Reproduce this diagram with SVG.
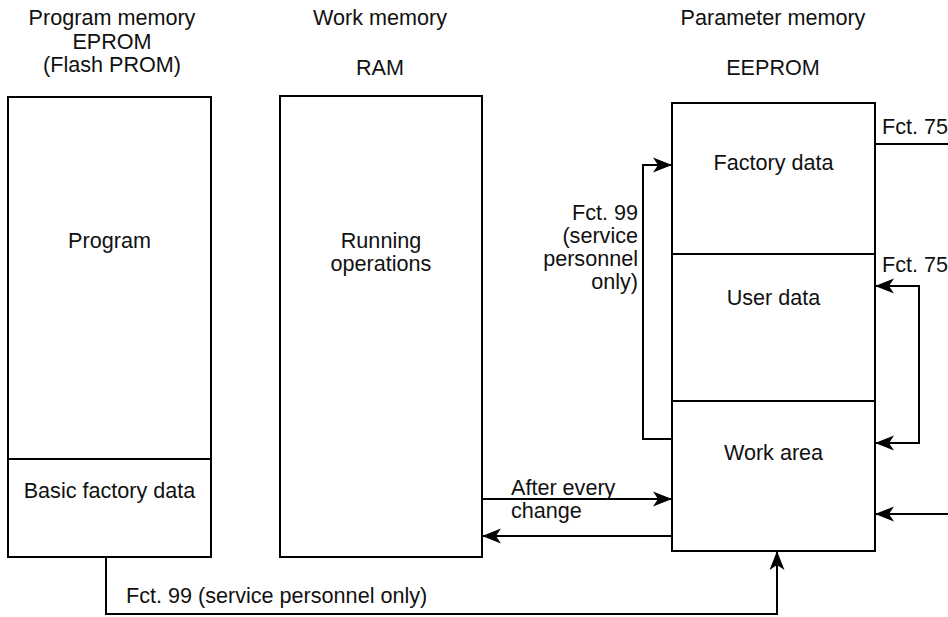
<svg xmlns="http://www.w3.org/2000/svg" width="948" height="617" viewBox="0 0 948 617">
<style>
  .box { fill: #fff; stroke: #000; stroke-width: 2; }
  .div { stroke: #000; stroke-width: 2; fill: none; }
  .t { font-family: "Liberation Sans", Arial, sans-serif; font-size: 21.6px; fill: #111; }
  .c { text-anchor: middle; }
  .r { text-anchor: end; }
  .conn { fill: none; stroke: #000; stroke-width: 2; }
</style>
<defs>
  <marker id="ah" markerUnits="userSpaceOnUse" markerWidth="19" markerHeight="16" refX="19" refY="8" orient="auto-start-reverse">
    <path d="M0,0.5 L19,8 L0,15.5 L5,8 Z" fill="#000"/>
  </marker>
</defs>
<rect width="948" height="617" fill="#fff"/>

<g id="header-program">
  <text class="t c" x="112" y="25">Program memory</text>
  <text class="t c" x="112" y="49">EPROM</text>
  <text class="t c" x="112" y="72">(Flash PROM)</text>
</g>
<g id="header-work">
  <text class="t c" x="380" y="25">Work memory</text>
  <text class="t c" x="380" y="75">RAM</text>
</g>
<g id="header-param">
  <text class="t c" x="773" y="25">Parameter memory</text>
  <text class="t c" x="773" y="75">EEPROM</text>
</g>

<g id="eprom">
  <rect class="box" x="8" y="97" width="203" height="460"/>
  <line class="div" x1="8" y1="459" x2="211" y2="459"/>
  <text class="t c" x="109.5" y="248">Program</text>
  <text class="t c" x="109.5" y="498">Basic factory data</text>
</g>

<g id="ram">
  <rect class="box" x="280" y="96" width="202" height="461"/>
  <text class="t c" x="381" y="248">Running</text>
  <text class="t c" x="381" y="271">operations</text>
</g>

<g id="eeprom">
  <rect class="box" x="672" y="103" width="203" height="448"/>
  <line class="div" x1="672" y1="254" x2="875" y2="254"/>
  <line class="div" x1="672" y1="401" x2="875" y2="401"/>
  <text class="t c" x="773.5" y="170">Factory data</text>
  <text class="t c" x="773.5" y="305">User data</text>
  <text class="t c" x="773.5" y="460">Work area</text>
</g>

<g id="connectors">
  <path class="conn" d="M875,144 L948,144"/>
  <text class="t" x="882" y="134">Fct. 75</text>

  <path class="conn" d="M875,286 L919,286 L919,443 L875,443" marker-start="url(#ah)" marker-end="url(#ah)"/>
  <text class="t" x="882" y="272">Fct. 75</text>

  <path class="conn" d="M948,514 L875,514" marker-end="url(#ah)"/>

  <path class="conn" d="M672,439 L643,439 L643,165 L672,165" marker-end="url(#ah)"/>
  <text class="t r" x="638" y="220">Fct. 99</text>
  <text class="t r" x="638" y="243">(service</text>
  <text class="t r" x="638" y="266">personnel</text>
  <text class="t r" x="638" y="289">only)</text>

  <path class="conn" d="M482,499 L672,499" marker-end="url(#ah)"/>
  <path class="conn" d="M672,536 L482,536" marker-end="url(#ah)"/>
  <text class="t" x="511" y="495">After every</text>
  <text class="t" x="511" y="518">change</text>

  <path class="conn" d="M106,557 L106,614 L777,614 L777,551" marker-end="url(#ah)"/>
  <text class="t" x="126" y="603">Fct. 99 (service personnel only)</text>
</g>
</svg>
